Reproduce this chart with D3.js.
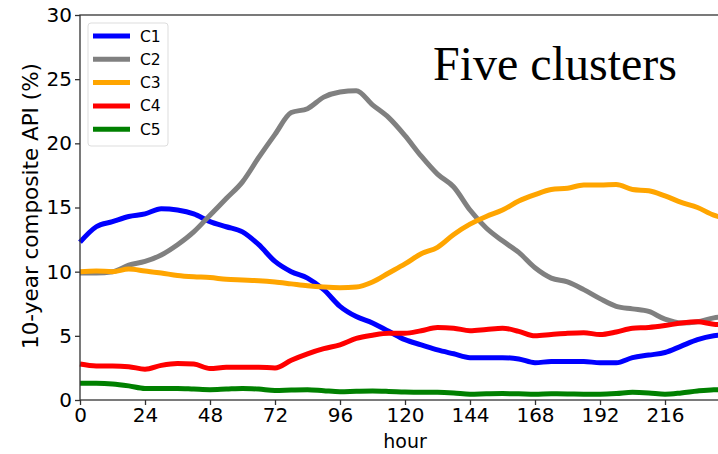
<!DOCTYPE html>
<html>
<head>
<meta charset="utf-8">
<script src="https://d3js.org/d3.v7.min.js"></script>
<style>
body { margin: 0; background: #fff; }
.axis text { font-family: "DejaVu Sans", sans-serif; font-size: 20px; fill: #000; }
.axis path, .axis line { stroke: #333; stroke-width: 1.3; }
</style>
</head>
<body>
<script>
// hours, every 6 h
var hours = d3.range(0, 241, 6);
var names = ["C1", "C2", "C3", "C4", "C5"];
var colors = ["#0000ff", "#808080", "#ffa500", "#ff0000", "#008000"];

var c1 = [12.3, 13.5, 13.9, 14.3, 14.5, 14.9, 14.8, 14.5, 13.9, 13.5, 13.1, 12.1, 10.8, 10.0, 9.5, 8.6, 7.3, 6.5, 6.0, 5.35,
          4.7, 4.3, 3.9, 3.6, 3.3, 3.3, 3.3, 3.2, 2.9, 3.0, 3.0, 3.0, 2.9, 2.9, 3.3, 3.5, 3.7, 4.2, 4.7, 5.0, 5.1];
var c2 = [9.9, 9.9, 10.0, 10.5, 10.8, 11.3, 12.1, 13.1, 14.4, 15.7, 17.0, 18.9, 20.7, 22.4, 22.7, 23.6, 24.0, 24.1, 23.0, 22.0,
          20.6, 19.0, 17.6, 16.6, 14.8, 13.4, 12.4, 11.5, 10.3, 9.5, 9.2, 8.6, 7.9, 7.3, 7.1, 6.9, 6.3, 6.0, 6.1, 6.4, 6.5];
var c3 = [10.0, 10.05, 10.0, 10.2, 10.05, 9.9, 9.7, 9.6, 9.55, 9.4, 9.35, 9.3, 9.2, 9.05, 8.9, 8.8, 8.75, 8.8, 9.2, 9.9,
          10.6, 11.4, 11.9, 12.9, 13.7, 14.3, 14.8, 15.5, 16.0, 16.4, 16.5, 16.75, 16.75, 16.8, 16.4, 16.3, 15.9, 15.4, 15.0, 14.4, 14.1];
var c4 = [2.8, 2.65, 2.65, 2.6, 2.4, 2.7, 2.85, 2.8, 2.45, 2.55, 2.55, 2.55, 2.5, 3.1, 3.6, 4.0, 4.3, 4.8, 5.05, 5.2,
          5.2, 5.4, 5.65, 5.6, 5.4, 5.5, 5.6, 5.35, 5.0, 5.1, 5.2, 5.25, 5.1, 5.3, 5.6, 5.65, 5.8, 6.0, 6.1, 5.9, 5.85];
var c5 = [1.3, 1.3, 1.25, 1.1, 0.9, 0.9, 0.9, 0.85, 0.8, 0.85, 0.9, 0.85, 0.75, 0.78, 0.8, 0.72, 0.65, 0.68, 0.7, 0.67,
          0.62, 0.6, 0.6, 0.55, 0.45, 0.48, 0.5, 0.48, 0.45, 0.48, 0.47, 0.45, 0.45, 0.5, 0.6, 0.55, 0.45, 0.55, 0.7, 0.8, 0.82];
var series = [c1, c2, c3, c4, c5];

var xTicks = [0, 24, 48, 72, 96, 120, 144, 168, 192, 216];
var yTicks = [0, 5, 10, 15, 20, 25, 30];

var width = 718, height = 454;
var margin = {top: 15, left: 80, bottom: 54};

var svg = d3.select("body").append("svg")
    .attr("width", width)
    .attr("height", height);

var x = d3.scaleLinear().domain([0, 240]).range([margin.left, margin.left + 650]);
var y = d3.scaleLinear().domain([0, 30]).range([height - margin.bottom, margin.top]);

// lines
var line = d3.line()
    .x(function(d, i) { return x(hours[i]); })
    .y(function(d) { return y(d); })
    .curve(d3.curveMonotoneX);

svg.selectAll(".series")
    .data(series)
    .enter().append("path")
    .attr("class", "series")
    .attr("d", line)
    .attr("fill", "none")
    .attr("stroke", function(d, i) { return colors[i]; })
    .attr("stroke-width", 5)
    .attr("stroke-linejoin", "round");

// frame (spines)
svg.append("rect")
    .attr("x", x(0)).attr("y", y(30))
    .attr("width", x(240) - x(0)).attr("height", y(0) - y(30))
    .attr("fill", "none")
    .attr("stroke", "#333")
    .attr("stroke-width", 1.3);

// axes
svg.append("g")
    .attr("class", "axis")
    .attr("transform", "translate(0," + y(0) + ")")
    .call(d3.axisBottom(x).tickValues(xTicks).tickSize(5).tickPadding(3).tickSizeOuter(0))
    .select(".domain").remove();

svg.append("g")
    .attr("class", "axis")
    .attr("transform", "translate(" + x(0) + ",0)")
    .call(d3.axisLeft(y).tickValues(yTicks).tickSize(5).tickPadding(3).tickSizeOuter(0))
    .select(".domain").remove();

// axis labels
svg.append("text")
    .attr("x", x(120))
    .attr("y", 448)
    .attr("text-anchor", "middle")
    .attr("font-family", "DejaVu Sans, sans-serif")
    .attr("font-size", "19px")
    .text("hour");

svg.append("text")
    .attr("transform", "translate(38,206) rotate(-90)")
    .attr("text-anchor", "middle")
    .attr("font-family", "DejaVu Sans, sans-serif")
    .attr("font-size", "21.5px")
    .text("10-year composite API (%)");

// title inside plot
svg.append("text")
    .attr("x", 433)
    .attr("y", 80)
    .attr("font-family", "Liberation Serif, Times New Roman, serif")
    .attr("font-size", "48px")
    .text("Five clusters");

// legend
var lg = svg.append("g").attr("transform", "translate(88,23)");
lg.append("rect")
    .attr("width", 80).attr("height", 123)
    .attr("rx", 3)
    .attr("fill", "#fff")
    .attr("fill-opacity", 0.8)
    .attr("stroke", "#ddd");

var item = lg.selectAll(".item")
    .data(names)
    .enter().append("g")
    .attr("class", "item")
    .attr("transform", function(d, i) { return "translate(0," + (13 + i * 23.3) + ")"; });

item.append("line")
    .attr("x1", 5).attr("x2", 42)
    .attr("stroke", function(d, i) { return colors[i]; })
    .attr("stroke-width", 5);

item.append("text")
    .attr("x", 52).attr("y", 5.5)
    .attr("font-family", "DejaVu Sans, sans-serif")
    .attr("font-size", "15.5px")
    .text(function(d) { return d; });
</script>
</body>
</html>
